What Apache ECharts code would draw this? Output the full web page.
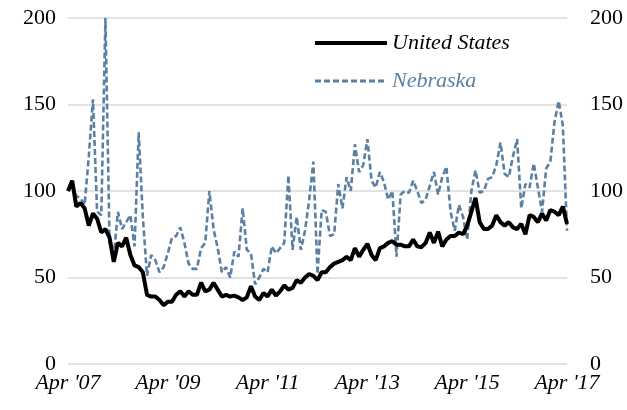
<!DOCTYPE html>
<html>
<head>
<meta charset="utf-8">
<script src="https://cdn.jsdelivr.net/npm/echarts@6/dist/echarts.min.js"></script>
<style>
html,body{margin:0;padding:0;background:#fff;}
#chart{width:627px;height:410px;}
</style>
</head>
<body>
<div id="chart"></div>
<script>
// Monthly, Apr 2007 .. Apr 2017 (121 months)
const monthNames = ['Jan','Feb','Mar','Apr','May','Jun','Jul','Aug','Sep','Oct','Nov','Dec'];
const categories = [];
for (let i = 0; i < 121; i++) {
  const m = (3 + i) % 12;
  const y = 2007 + Math.floor((3 + i) / 12);
  categories.push(monthNames[m] + " '" + String(y).slice(2));
}
const tickLabels = ["Apr '07", "Apr '09", "Apr '11", "Apr '13", "Apr '15", "Apr '17"];
const yTicks = [0, 50, 100, 150, 200];

const unitedStates = [
  100,106,91,93,90,80,87,84,76,78,73,59,70,68,73,63,57,56,53,40,
  39,39,37,34,36,36,40,42,39,42,40,40,47,42,43,47,43,39,40,39,
  39.5,38.5,37,38.5,45,39,37,41,39,43,39.5,42,45.5,43,44,48.5,47,50,52,51,
  48.5,53,53,56,58,59,60,62,60,67,62,66,69.5,63,60,67,68,70,71,69,
  69,68,68,72,68,67.5,70,76,70,76.5,68,72,74,74,76,75,80,88,96,82,
  78,78,80,86,82,80,82,79,78,81,75,86,85,82,87,83,89,88,86,91,81
];
const nebraska = [
  100,104,97,96,92,120,153,88,86,200,70,62,88,78,82,86,68,134,85,51,
  63,60,53,56,64,73,74,79,70,58,55,55,67,70,100,78,67,53,56,50,
  65,62,90,66,64,46,50,55,53,68,64,67,70,109,66,85,66,77,95,117,
  52,89,88,74,75,104,90,108,100,127,111,115,130,106,102,111,105,95,100,62,
  98,100,99,106,100,93,95,103,111,98,108,114,88,77,92,85,72,100,112,99,
  100,107,108,115,128,110,108,120,130,90,104,102,116,102,88,113,117,140,152,138,77
];

const serif = '"Liberation Serif", "DejaVu Serif", serif';
const blue = '#5a80a4';

const chart = echarts.init(document.getElementById('chart'));
chart.setOption({
  animation: false,
  backgroundColor: '#fff',
  textStyle: { fontFamily: serif },
  grid: { left: 68, right: 60, top: 18, bottom: 46, containLabel: false },
  legend: {
    orient: 'vertical',
    left: 308,
    top: 26,
    itemWidth: 72,
    itemHeight: 14,
    itemGap: 14,
    itemStyle: { opacity: 0 },
    textStyle: { fontFamily: serif, fontSize: 22, fontStyle: 'italic', lineHeight: 24 },
    data: [
      { name: 'United States', textStyle: { color: '#000' }, lineStyle: { width: 4, color: '#000' } },
      { name: 'Nebraska', textStyle: { color: blue }, lineStyle: { width: 3, color: blue, type: [6, 3] } }
    ]
  },
  xAxis: {
    type: 'category',
    data: categories,
    boundaryGap: false,
    axisLine: { show: false },
    axisTick: { show: false },
    splitLine: { show: false },
    axisLabel: {
      interval: function (index) { return index % 24 === 0; },
      formatter: function (v) { return tickLabels.indexOf(v) >= 0 ? v : ''; },
      fontFamily: serif, fontSize: 22, fontStyle: 'italic', color: '#000', margin: 8
    }
  },
  yAxis: [
    {
      type: 'value', min: 0, max: 200, interval: 50,
      axisLine: { show: false }, axisTick: { show: false },
      splitLine: { lineStyle: { color: '#d9d9d9', width: 1.5 } },
      axisLabel: { fontFamily: serif, fontSize: 22, color: '#000', margin: 12,
        formatter: function (v) { return yTicks.indexOf(v) >= 0 ? String(v) : ''; } }
    },
    {
      type: 'value', min: 0, max: 200, interval: 50, position: 'right',
      axisLine: { show: false }, axisTick: { show: false },
      splitLine: { show: false },
      axisLabel: { fontFamily: serif, fontSize: 22, color: '#000', margin: 23,
        formatter: function (v) { return yTicks.indexOf(v) >= 0 ? String(v) : ''; } }
    }
  ],
  series: [
    {
      name: 'Nebraska', type: 'line', data: nebraska, yAxisIndex: 0,
      symbol: 'none', z: 2,
      lineStyle: { color: blue, width: 2.6, type: [6, 3] },
      itemStyle: { color: blue }
    },
    {
      name: 'United States', type: 'line', data: unitedStates, yAxisIndex: 0,
      symbol: 'none', z: 3,
      lineStyle: { color: '#000', width: 4 },
      itemStyle: { color: '#000' }
    }
  ]
});
</script>
</body>
</html>
